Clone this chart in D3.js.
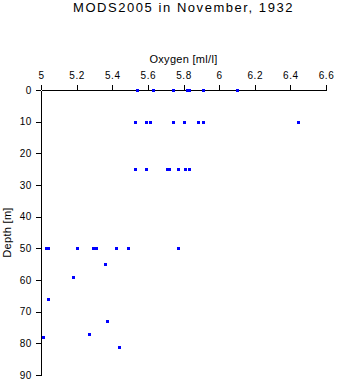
<!DOCTYPE html>
<html>
<head>
<meta charset="utf-8">
<script src="https://cdn.jsdelivr.net/npm/d3@7"></script>
<style>
  body { margin: 0; background: #fff; }
  svg { display: block; font-family: "Liberation Sans", Arial, sans-serif; }
</style>
</head>
<body>
<svg id="chart" width="337" height="384"></svg>
<script>
// ---- data ----
const title = "MODS2005 in November, 1932";
const xLabel = "Oxygen [ml/l]";
const yLabel = "Depth [m]";
const xTicks = [5, 5.2, 5.4, 5.6, 5.8, 6, 6.2, 6.4, 6.6];
const yTicks = [0, 10, 20, 30, 40, 50, 60, 70, 80, 90];

const depthLevels = [0, 10, 25, 50, 55, 59, 66, 73, 77, 78, 81];
const oxygenAt0  = [5.54, 5.63, 5.74, 5.82, 5.83, 5.91, 6.10];
const oxygenAt10 = [5.53, 5.59, 5.61, 5.74, 5.80, 5.88, 5.91, 6.44];
const oxygenAt25 = [5.53, 5.59, 5.71, 5.72, 5.77, 5.81, 5.83];
const oxygenAt50 = [5.03, 5.04, 5.20, 5.29, 5.31, 5.42, 5.49, 5.77];
const oxygenAt55 = [5.36];
const oxygenAt59 = [5.18];
const oxygenAt66 = [5.04];
const oxygenAt73 = [5.37];
const oxygenAt77 = [5.27];
const oxygenAt78 = [5.01];
const oxygenAt81 = [5.44];
const oxygenByLevel = [oxygenAt0, oxygenAt10, oxygenAt25, oxygenAt50, oxygenAt55,
  oxygenAt59, oxygenAt66, oxygenAt73, oxygenAt77, oxygenAt78, oxygenAt81];

const points = [];
depthLevels.forEach((d, i) => oxygenByLevel[i].forEach(v => points.push({ depth: d, oxygen: v })));

// ---- drawing ----
const svg = d3.select("#chart");
const x = d3.scaleLinear().domain([5, 6.6]).range([41, 326]);
const y = d3.scaleLinear().domain([0, 90]).range([90, 375]);

svg.append("text")
  .attr("x", 183.5).attr("y", 12)
  .attr("text-anchor", "middle")
  .style("font-size", "13px")
  .style("letter-spacing", "1.55px")
  .text(title);

const xAxis = svg.append("g")
  .attr("transform", "translate(0,90)")
  .call(d3.axisTop(x).tickValues(xTicks).tickSize(5).tickSizeOuter(0).tickPadding(6)
    .tickFormat(d3.format("~g")));
const yAxis = svg.append("g")
  .attr("transform", "translate(41,0)")
  .call(d3.axisLeft(y).tickValues(yTicks).tickSize(5).tickSizeOuter(0).tickPadding(4));

[xAxis, yAxis].forEach(g => {
  g.selectAll("path, line").attr("stroke", "#000").attr("shape-rendering", "crispEdges");
  g.selectAll("text").attr("fill", "#000")
    .style("font-family", "'Liberation Sans', Arial, sans-serif")
    .style("font-size", "10px").style("letter-spacing", "0.6px");
});

svg.append("text")
  .attr("x", 183.5).attr("y", 63)
  .attr("text-anchor", "middle")
  .style("font-size", "11px")
  .style("letter-spacing", "0.3px")
  .text(xLabel);

svg.append("text")
  .attr("transform", "translate(10.5,232.5) rotate(-90)")
  .attr("text-anchor", "middle")
  .style("font-size", "11px")
  .style("letter-spacing", "0.3px")
  .text(yLabel);

svg.append("g").selectAll("rect")
  .data(points)
  .join("rect")
  .attr("x", d => Math.round(x(d.oxygen)) - 1)
  .attr("y", d => Math.round(y(d.depth)) - 1)
  .attr("width", 3).attr("height", 3)
  .attr("fill", "#0000ff")
  .attr("shape-rendering", "crispEdges");
</script>
</body>
</html>
